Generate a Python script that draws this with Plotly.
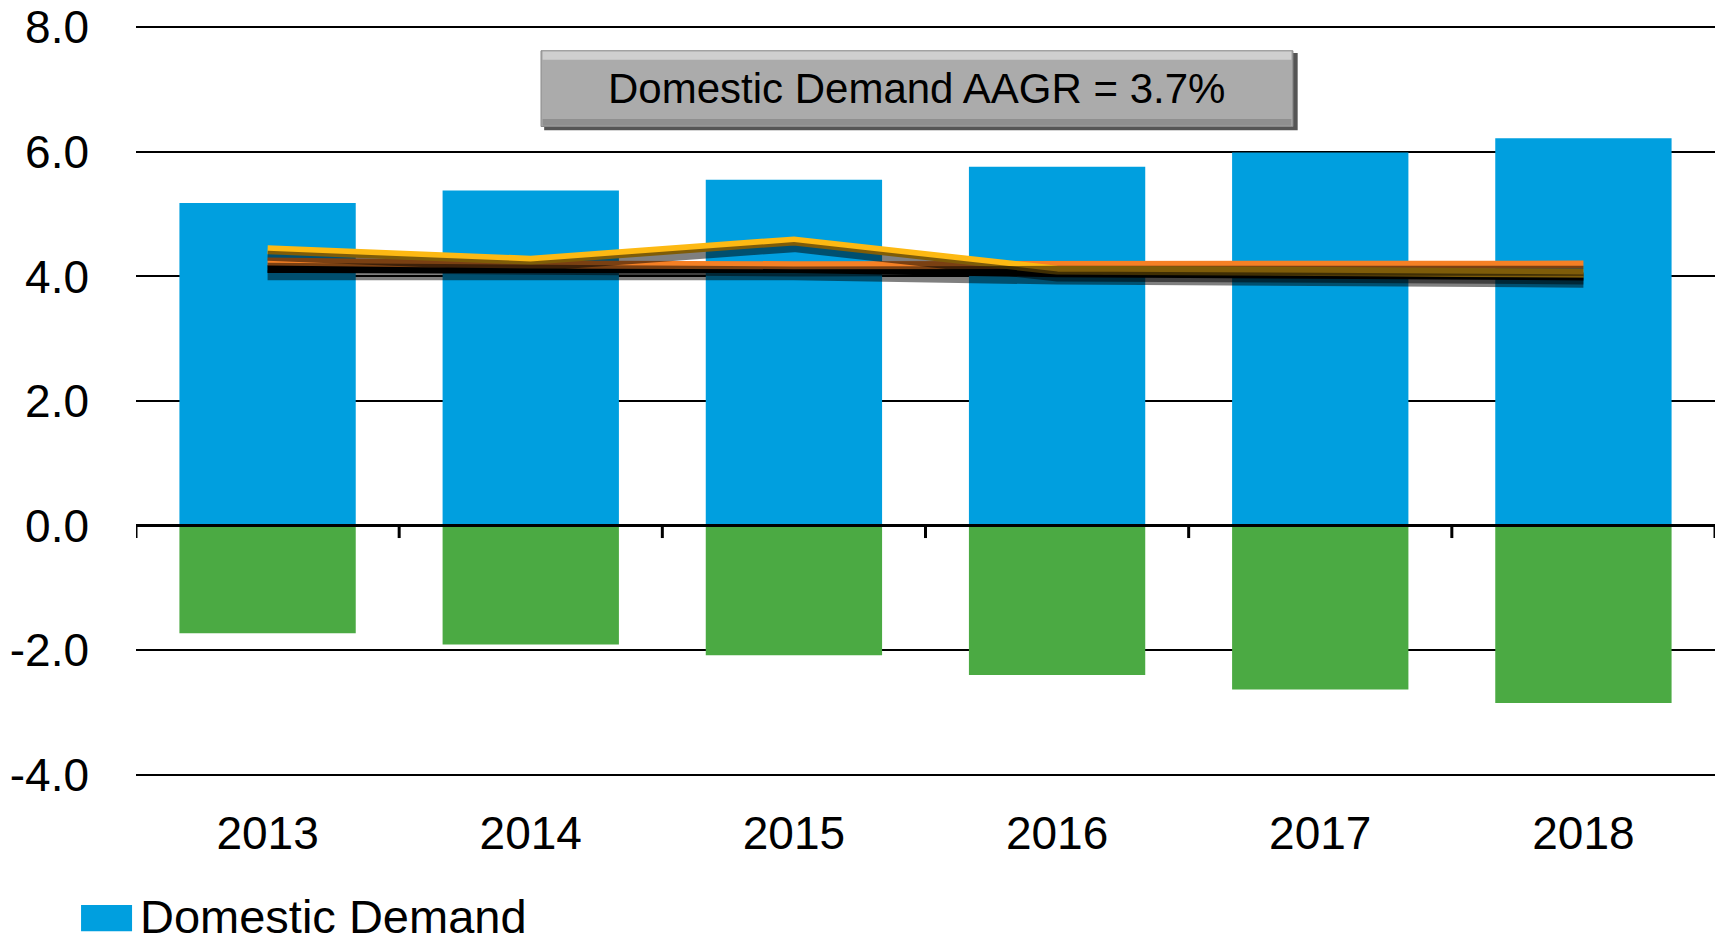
import plotly.graph_objects as go

years = ["2013", "2014", "2015", "2016", "2017", "2018"]
domestic_demand = [5.18, 5.38, 5.55, 5.76, 5.99, 6.22]
net_exports = [-1.73, -1.91, -2.08, -2.40, -2.63, -2.85]
gdp_line = [4.12, 4.12, 4.12, 4.05, 4.03, 4.00]
orange_line = [4.24, 4.19, 4.18, 4.19, 4.19, 4.19]
yellow_line = [4.43, 4.26, 4.57, 4.10, 4.08, 4.05]
y_ticks = [-4, -2, 0, 2, 4, 6, 8]
y_tick_labels = [f"{v:.1f}" for v in y_ticks]
annotation_text = "Domestic Demand AAGR = 3.7%"
legend_label = "Domestic Demand"

FONT = "Liberation Sans, Arial, sans-serif"
BLUE = "#009FDF"
GREEN = "#4BAA43"
ORANGE = "#F58025"
YELLOW = "#FDB913"

fig = go.Figure()
fig.add_trace(go.Bar(x=years, y=domestic_demand, name="Domestic Demand",
                     marker=dict(color=BLUE, line=dict(width=0)), showlegend=False))
fig.add_trace(go.Bar(x=years, y=net_exports, name="Net Exports",
                     marker=dict(color=GREEN, line=dict(width=0)), showlegend=False))

# drop shadows (same data on a slightly shifted overlay axis)
for vals in [gdp_line, orange_line, yellow_line]:
    fig.add_trace(go.Scatter(x=years, y=vals, mode="lines", yaxis="y2",
                             line=dict(color="rgba(0,0,0,0.5)", width=10),
                             showlegend=False, hoverinfo="skip"))

fig.add_trace(go.Scatter(x=years, y=gdp_line, mode="lines", name="GDP",
                         line=dict(color="#000000", width=8), showlegend=False))
fig.add_trace(go.Scatter(x=years, y=orange_line, mode="lines", name="Private Consumption",
                         line=dict(color=ORANGE, width=8), showlegend=False))
fig.add_trace(go.Scatter(x=years, y=yellow_line, mode="lines", name="Investment",
                         line=dict(color=YELLOW, width=9), showlegend=False))

shapes = []
# zero-line tick marks between categories
for i in range(len(years) + 1):
    shapes.append(dict(type="line", xref="x", yref="y", x0=i - 0.5, x1=i - 0.5,
                       y0=0, y1=-0.2, line=dict(color="black", width=3), layer="above"))
shapes.append(dict(type="line", xref="paper", yref="y", x0=0, x1=1, y0=0, y1=0,
                   line=dict(color="black", width=3), layer="above"))

# annotation box: shadow, body, highlight, border
bx0, bx1, by0, by1 = 0.2565, 0.7327, 0.866, 0.967
shapes.append(dict(type="rect", xref="paper", yref="paper", x0=bx0 + 0.002, x1=bx1 + 0.003,
                   y0=by0 - 0.005, y1=by1 - 0.003, fillcolor="#555555", line=dict(width=0), layer="above"))
shapes.append(dict(type="rect", xref="paper", yref="paper", x0=bx0, x1=bx1, y0=by0, y1=by1,
                   fillcolor="#ABABAB", line=dict(color="#8A8A8A", width=1), layer="above"))
shapes.append(dict(type="rect", xref="paper", yref="paper", x0=bx0 + 0.001, x1=bx1 - 0.001,
                   y0=by1 - 0.012, y1=by1 - 0.001, fillcolor="#CFCFCF", line=dict(width=0), layer="above"))
shapes.append(dict(type="rect", xref="paper", yref="paper", x0=bx0 + 0.001, x1=bx1 - 0.001,
                   y0=by0 + 0.001, y1=by0 + 0.01, fillcolor="#8F8F8F", line=dict(width=0), layer="above"))

# legend swatch (drawn manually to match the wide rectangle)
shapes.append(dict(type="rect", xref="paper", yref="paper", x0=-0.0348, x1=-0.0025,
                   y0=-0.207, y1=-0.172, fillcolor=BLUE, line=dict(width=0)))

fig.update_layout(
    width=1715, height=947,
    margin=dict(l=136, r=0, t=26, b=171, autoexpand=False),
    paper_bgcolor="white", plot_bgcolor="white",
    barmode="relative", bargap=0.33,
    font=dict(family=FONT, size=46, color="black"),
    showlegend=False,
    xaxis=dict(type="category", showgrid=False, showline=False, ticks="",
               tickfont=dict(size=46, family=FONT), range=[-0.5, 5.5],
               ticklabelstandoff=26),
    yaxis=dict(range=[-4.02, 8.02], tickvals=y_ticks, ticktext=y_tick_labels,
               showgrid=True, gridcolor="black", gridwidth=2, zeroline=False,
               showline=False, ticks="", ticklabelstandoff=46,
               tickfont=dict(size=46, family=FONT)),
    yaxis2=dict(range=[-3.92, 8.12], overlaying="y", visible=False, showgrid=False),
    shapes=shapes,
    annotations=[
        dict(text=annotation_text, xref="paper", yref="paper",
             x=(bx0 + bx1) / 2, y=(by0 + by1) / 2, xanchor="center", yanchor="middle",
             showarrow=False, font=dict(size=42, family=FONT, color="black")),
        dict(text=legend_label, xref="paper", yref="paper", x=0.0019, y=-0.187,
             xanchor="left", yanchor="middle", showarrow=False, borderpad=0,
             font=dict(size=47, family=FONT, color="black")),
    ],
)

fig.write_html("out.html", config={"displayModeBar": False},
               post_script="document.body.style.margin='0';document.body.style.overflow='hidden';")
